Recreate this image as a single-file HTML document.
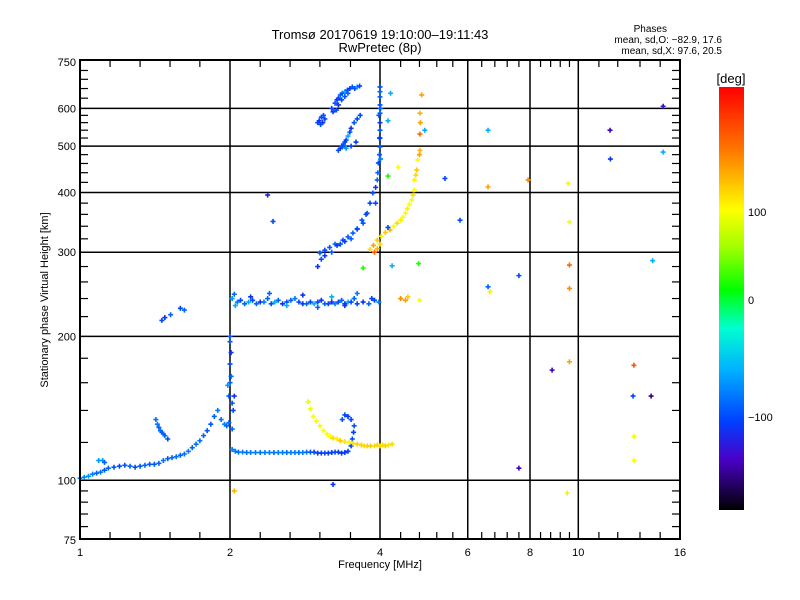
<!DOCTYPE html>
<html><head><meta charset="utf-8"><style>
html,body{margin:0;padding:0;background:#fff;}
svg{display:block;font-family:"Liberation Sans",sans-serif;}
</style></head><body>
<svg id="chart" width="800" height="600" viewBox="0 0 800 600">
<defs>
<linearGradient id="cmap" x1="0" y1="0" x2="0" y2="1">
<stop offset="0" stop-color="#ff0000"/><stop offset="0.15" stop-color="#ff7800"/>
<stop offset="0.29" stop-color="#ffff00"/><stop offset="0.38" stop-color="#a0ff00"/>
<stop offset="0.48" stop-color="#00ff00"/><stop offset="0.57" stop-color="#00ffd0"/>
<stop offset="0.67" stop-color="#00b0ff"/><stop offset="0.79" stop-color="#0040ff"/>
<stop offset="0.88" stop-color="#4a00c8"/><stop offset="1" stop-color="#000000"/>
</linearGradient>
</defs>
<rect width="800" height="600" fill="#fff"/>
<text x="380" y="39" text-anchor="middle" font-size="13">Tromsø 20170619 19:10:00–19:11:43</text>
<text x="380" y="52" text-anchor="middle" font-size="13">RwPretec (8p)</text>
<g font-size="10" text-anchor="end">
<text x="667" y="32">Phases</text>
<text x="722" y="43">mean, sd,O: −82.9, 17.6</text>
<text x="722" y="54">mean, sd,X:  97.6, 20.5</text>
</g>
<g id="grid"></g>
<g id="ticks"></g>
<g id="points"></g>
<rect x="80" y="60" width="600" height="479" fill="none" stroke="#000" stroke-width="2"/>
<text x="380" y="568" text-anchor="middle" font-size="11">Frequency [MHz]</text>
<text transform="translate(48,300) rotate(-90)" text-anchor="middle" font-size="11">Stationary phase Virtual Height [km]</text>
<rect x="719" y="87" width="25" height="423" fill="url(#cmap)"/>
<text x="731" y="83" text-anchor="middle" font-size="13">[deg]</text>
<g font-size="11">
<text x="748" y="216">100</text>
<text x="748" y="304">0</text>
<text x="748" y="421">−100</text>
</g>
</svg>
<script>
const xMajor=[1,2,4,6,8,10,16];
const xMajorLabels=["1","2","4","6","8","10","16"];
const xMinor=[1.149,1.32,1.516,1.74,2.3,2.64,3.03,3.49,4.4,4.8,5.2,5.6,6.4,6.8,7.2,7.6,8.4,8.8,9.2,9.6,11,12,13.3,14.6];
const yMajor=[75,100,200,300,400,500,600,750];
const yMajorLabels=["75","100","200","300","400","500","600","750"];
const yMinor=[80,85,90,95,120,140,160,180,220,240,260,280,320,340,360,380,420,440,460,480,520,540,560,580,630,660,690,720];

const eO_f=[1.0,1.02,1.04,1.06,1.08,1.1,1.12,1.14,1.17,1.2,1.23,1.26,1.29,1.32,1.35,1.38,1.41,1.44,1.47,1.5,1.53,1.56,1.59,1.62,1.65,1.68,1.71,1.74,1.77,1.8,1.83,1.86,1.89,1.92,1.95,1.97,1.99];
const eO_h=[101,101.5,102,103,103.5,104,105,106,106.5,107,107.5,107,106.5,107,107.5,108,108,108.5,110,111,111.5,112,112.8,113.5,115,117,119,121,124,127,131,136,140,134,131,130,132];
const eO_p=[-70,-75,-70,-80,-90,-85,-95,-90,-95,-100,-95,-90,-100,-95,-90,-95,-95,-90,-85,-95,-90,-85,-90,-85,-80,-90,-85,-85,-90,-95,-95,-90,-80,-85,-75,-90,-85];

const spike_f=[1.99,2.0,2.0,2.0,2.01,2.01,2.02,2.03,1.98,2.04,2.0,2.02];
const spike_h=[150,160,175,195,185,165,145,140,158,150,200,128];
const spike_p=[-95,-90,-100,-95,-110,-90,-95,-100,-70,-110,-95,-90];

const fO_f=[2.02,2.05,2.08,2.12,2.16,2.2,2.25,2.3,2.35,2.4,2.45,2.5,2.55,2.6,2.65,2.7,2.75,2.8,2.85,2.9,2.95,3.0,3.05,3.1,3.15,3.2,3.25,3.3,3.35,3.4,3.45,3.5,3.52,3.54,3.55,3.5,3.45,3.4,3.36];
const fO_h=[116,115,114.5,114.5,114.3,114.3,114.3,114.3,114.3,114.3,114.3,114.3,114.3,114.3,114.3,114.3,114.3,114.3,114.5,114.5,114.5,114,114,114,114,114.3,114.5,114.5,114,114.3,115,118,122,126,130,134,136,137,134];
const fO_p=[-80,-80,-85,-80,-85,-80,-80,-85,-80,-80,-85,-80,-80,-85,-80,-80,-85,-80,-85,-95,-100,-105,-105,-100,-105,-105,-100,-105,-110,-105,-105,-100,-100,-105,-95,-100,-105,-100,-95];

const br_f=[1.42,1.43,1.44,1.45,1.46,1.47,1.48,1.5,1.09,1.11,1.12];
const br_h=[134,131,129,127,126,125,124,122,110,110,109];
const br_p=[-85,-80,-90,-85,-95,-85,-90,-100,-70,-70,-90];

const fX_f=[2.87,2.9,2.94,2.98,3.03,3.08,3.13,3.18,3.22,3.28,3.33,3.4,3.47,3.53,3.6,3.67,3.72,3.77,3.83,3.9,3.95,4.0,4.05,4.1,4.16,4.23];
const fX_h=[146,141,136,133,130,127,125,123.5,122.5,122,121,120.5,120,119.5,119,118.5,118,118,118,118,118.5,118,118.5,118,118.5,119];
const fX_p=[90,95,100,100,105,100,100,105,120,110,130,115,110,120,125,125,120,125,130,120,125,120,120,125,115,120];

const f1_f=[2.02,2.04,2.07,2.1,2.14,2.18,2.22,2.26,2.3,2.34,2.38,2.42,2.46,2.5,2.55,2.6,2.65,2.7,2.75,2.8,2.85,2.9,2.95,3.0,3.05,3.1,3.15,3.2,3.25,3.3,3.35,3.4,3.45,3.5,3.55,3.6,3.7,3.8,3.9,3.98,2.05,2.2,2.4,2.6,2.8,3.0,3.2,3.4,3.6,3.85,4.4,4.5,4.55,4.8];
const f1_h=[240,245,236,238,234,236,238,234,236,236,240,234,236,238,234,236,238,240,236,234,234,236,234,236,238,234,234,236,234,236,238,234,236,236,240,234,236,234,238,236,232,242,246,232,244,230,242,232,246,240,240,238,242,238];
const f1_p=[-70,-90,-80,-100,-90,-60,-100,-90,-110,-80,-90,-100,-60,-90,-110,-100,-90,-80,-100,-110,-90,-100,-60,-100,-110,-90,-100,-110,-80,-100,-90,-110,-60,-100,-90,-100,-110,-90,-100,-80,-60,-110,-90,-60,-110,-90,-60,-110,-80,-100,160,150,130,100];

const uO_f=[3.03,3.1,3.17,3.25,3.37,3.45,3.53,3.6,3.7,3.77,3.82,3.87,3.92,3.95,3.97,3.99,4.0,4.0,4.0,4.0,4.0,4.0,4.0,4.0,4.0,3.98,3.96,3.92,3.0,3.05,3.1,3.2,3.28,3.33,3.4,3.5,3.6,3.68,3.75,4.01,3.99,4.01];
const uO_h=[299,303,307,312,318,323,329,336,345,362,380,399,410,425,461,480,498,520,540,560,586,610,634,650,665,580,440,380,280,290,295,300,310,312,316,320,335,350,360,470,520,600];
const uO_p=[-95,-100,-95,-90,-100,-95,-90,-100,-95,-90,-100,-95,-110,-90,-100,-95,-90,-100,-95,-110,-90,-100,-95,-90,-100,-95,-90,-100,-110,-100,-105,-95,-110,-100,-105,-90,-100,-95,-100,-80,-110,-90];

const uX_f=[3.82,3.88,3.95,4.02,4.1,4.19,4.26,4.33,4.4,4.45,4.5,4.54,4.58,4.63,4.66,4.69,4.69,4.72,4.74,4.76,4.8,4.81,4.81,4.82,4.81,4.85,3.9,3.95,4.0];
const uX_h=[304,310,318,324,330,334,340,345,350,355,362,370,378,386,395,405,425,435,446,468,480,490,530,560,586,640,300,305,312];
const uX_p=[120,150,130,110,130,140,100,120,110,100,105,110,100,95,120,100,110,120,130,100,150,140,180,150,140,150,190,140,120];

const bl_f=[3.2,3.25,3.28,3.3,3.33,3.36,3.4,3.44,3.48,3.52,3.56,3.6,3.64,3.3,3.35,3.4,3.45,3.27,3.22,3.0,3.02,3.05,3.08,3.1,3.07,3.04,3.6,3.55,3.5,3.48,3.45,3.42,3.4,3.38,3.35,3.33,3.3,3.36,3.42,3.5,3.58,3.65];
const bl_h=[600,615,625,630,640,645,650,655,660,665,660,665,668,610,625,635,645,595,590,560,565,575,580,570,560,555,570,560,545,535,525,515,510,505,500,495,490,498,495,500,510,580];
const bl_p=[-100,-95,-110,-100,-90,-100,-60,-100,-110,-95,-100,-70,-100,-110,-100,-95,-90,-100,-105,-100,-110,-100,-95,-100,-110,-100,-100,-95,-110,-100,-60,-100,-105,-95,-100,-110,-100,-95,-70,-100,-105,-100];

const sc_f=[6.59,6.59,7.93,9.54,9.6,9.6,9.6,6.59,6.65,7.6,11.58,11.6,14.8,14.8,14.1,12.93,12.88,14.0,8.86,9.6,12.93,12.93,9.5,7.6,2.04,3.22,5.79,2.38,2.44,1.46,1.52,1.59,1.62,1.48,4.2,4.15,4.92,5.4,4.15,4.23,3.7,4.78,4.15,4.35];
const sc_h=[540,411,425,418,347,282,252,254,248,268,540,470,606,486,288,174,150,150,170,177,123.5,110,94,106,95,98,350,395,348,216,222,229,227,219,645,565,540,428,338,281,278,284,433,452];
const sc_p=[-60,150,160,100,95,180,160,-90,110,-100,-140,-110,-130,-60,-60,190,-100,-150,-140,150,100,100,110,-140,140,-110,-100,-120,-100,-100,-90,-100,-90,-110,-60,-60,-60,-100,-100,-60,20,20,20,100];

const xS=f=>80+150*Math.log2(f);
const yS=h=>540-478*Math.log10(h/75);
const NS="http://www.w3.org/2000/svg";
const stops=[[0,[255,0,0]],[0.15,[255,120,0]],[0.29,[255,255,0]],[0.38,[160,255,0]],[0.48,[0,255,0]],[0.57,[0,255,208]],[0.67,[0,176,255]],[0.79,[0,64,255]],[0.88,[74,0,200]],[1,[0,0,0]]];
function phaseColor(p){
  const y=p>=0?300-0.88*p:300-1.17*p;
  let t=(y-87)/423; t=Math.max(0,Math.min(1,t));
  for(let i=1;i<stops.length;i++){
    if(t<=stops[i][0]){
      const a=stops[i-1],b=stops[i],u=(t-a[0])/(b[0]-a[0]);
      const c=a[1].map((v,k)=>Math.round(v+(b[1][k]-v)*u));
      return `rgb(${c[0]},${c[1]},${c[2]})`;
    }
  }
  return "#000";
}
const grid=document.getElementById('grid');
const ticks=document.getElementById('ticks');
function line(parent,x1,y1,x2,y2,w,name){
  const l=document.createElementNS(NS,'line');
  l.setAttribute('x1',x1);l.setAttribute('y1',y1);l.setAttribute('x2',x2);l.setAttribute('y2',y2);
  l.setAttribute('stroke','#000');l.setAttribute('stroke-width',w);
  
  
  parent.appendChild(l);
}
function label(x,y,txt,anchor,name){
  const t=document.createElementNS(NS,'text');
  t.setAttribute('x',x);t.setAttribute('y',y);t.setAttribute('font-size','11');t.setAttribute('text-anchor',anchor);
  t.textContent=txt;
  
  
  ticks.appendChild(t);
}
xMajor.forEach((f,i)=>{
  const x=xS(f);
  if(i>0&&i<xMajor.length-1) line(grid,x,60,x,539,1.5,'x-gridline');
  label(x,556,xMajorLabels[i],'middle','x-tick-label');
});
xMinor.forEach(f=>{const x=xS(f);line(ticks,x,539,x,532,1.2,'x-minor-tick');line(ticks,x,60,x,67,1.2,'x-minor-tick-top');});
yMajor.forEach((h,i)=>{
  const y=yS(h);
  if(i>0&&i<yMajor.length-1) line(grid,80,y,680,y,1.5,'y-gridline');
  label(76,y+4,yMajorLabels[i],'end','y-tick-label');
});
yMinor.forEach(h=>{const y=yS(h);line(ticks,80,y,88,y,1.2,'y-minor-tick');line(ticks,672,y,680,y,1.2,'y-minor-tick-right');});

const pts=document.getElementById('points');
function plot(F,H,P,name){
  const n=Math.min(F.length,H.length,P.length);
  for(let i=0;i<n;i++){
    const x=xS(F[i]),y=yS(H[i]);
    const p=document.createElementNS(NS,'path');
    p.setAttribute('d',`M${x-2.5} ${y}h5M${x} ${y-2.5}v5`);
    p.setAttribute('stroke',phaseColor(P[i]));
    p.setAttribute('stroke-width','1.6');
    
    
    pts.appendChild(p);
  }
}
plot(eO_f,eO_h,eO_p,'e-trace-point');
plot(spike_f,spike_h,spike_p,'cusp-point');
plot(fO_f,fO_h,fO_p,'f-o-trace-point');
plot(br_f,br_h,br_p,'branch-point');
plot(fX_f,fX_h,fX_p,'f-x-trace-point');
plot(f1_f,f1_h,f1_p,'f1-trace-point');
plot(uO_f,uO_h,uO_p,'f2-o-trace-point');
plot(uX_f,uX_h,uX_p,'f2-x-trace-point');
plot(bl_f,bl_h,bl_p,'spread-echo-point');
plot(sc_f,sc_h,sc_p,'scatter-point');
</script>
</body></html>
